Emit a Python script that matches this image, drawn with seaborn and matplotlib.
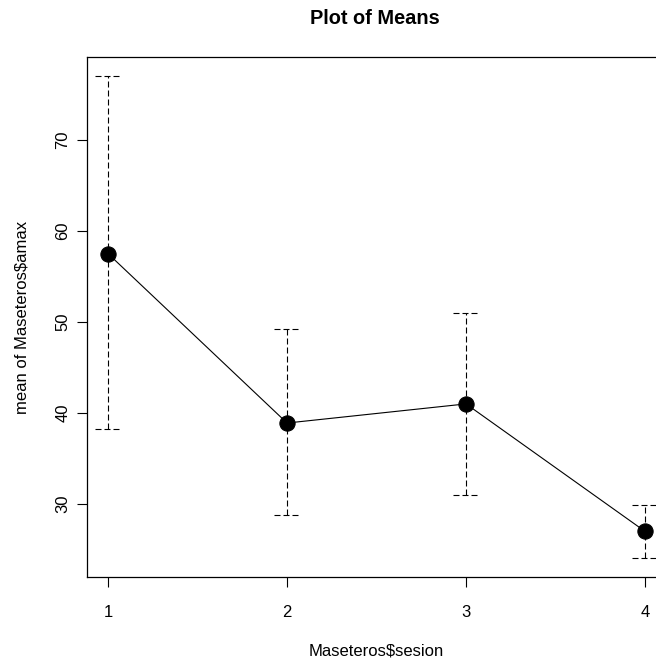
import numpy as np
import pandas as pd
import matplotlib
matplotlib.use("Agg")
import matplotlib.pyplot as plt
import seaborn as sns

# data
sesion = [1, 2, 3, 4]
means = [57.5, 38.9, 41.0, 27.0]
upper = [77.0, 49.2, 51.0, 29.9]
lower = [38.2, 28.8, 31.0, 24.1]
x_ticks = ["1", "2", "3", "4"]
y_ticks = [30, 40, 50, 60, 70]

sns.set_style("white")
plt.rcParams["font.family"] = ["Liberation Sans", "DejaVu Sans"]
plt.rcParams.update({"text.color": "black", "axes.labelcolor": "black",
                     "xtick.color": "black", "ytick.color": "black"})

df = pd.DataFrame({"sesion": sesion, "mean": means, "upper": upper, "lower": lower})

fig = plt.figure(figsize=(6.56, 6.61), dpi=100)
ax = fig.add_axes([0.132, 0.127, 0.884, 0.787])

# dashed confidence intervals (R plotMeans style)
dash = (0, (5.4, 2.7))
ax.vlines(df["sesion"], df["lower"], df["upper"], colors="black", linewidth=0.8, linestyles=dash)
ax.hlines(df["upper"], df["sesion"] - 0.073, df["sesion"] + 0.073, colors="black",
          linewidth=0.8, linestyles=dash)
ax.hlines(df["lower"], df["sesion"] - 0.073, df["sesion"] + 0.073, colors="black",
          linewidth=0.8, linestyles=dash)

sns.lineplot(data=df, x="sesion", y="mean", ax=ax, color="black", linewidth=0.8,
             marker="o", markersize=11, markeredgecolor="black", markerfacecolor="black")

# R default 4% axis extension
span_y = max(upper) - min(lower)
ax.set_ylim(min(lower) - 0.04 * span_y, max(upper) + 0.04 * span_y)
ax.set_xlim(1 - 0.04 * 3, 4 + 0.04 * 3)

ax.set_xticks(sesion)
ax.set_xticklabels(x_ticks)
ax.set_yticks(y_ticks)
ax.set_yticklabels([str(v) for v in y_ticks], rotation=90)
ax.tick_params(axis="both", direction="out", length=7, width=0.8, color="black",
               labelcolor="black", labelsize=12, bottom=True, left=True)
ax.tick_params(axis="x", pad=13)
ax.tick_params(axis="y", pad=4.5)
for lbl in ax.get_yticklabels():
    lbl.set_verticalalignment("center")

for side in ["left", "bottom", "top", "right"]:
    ax.spines[side].set_color("black")
    ax.spines[side].set_linewidth(0.9)

ax.set_xlabel("Maseteros$sesion", fontsize=12, labelpad=17, color="black")
ax.set_ylabel("mean of Maseteros$amax", fontsize=12, labelpad=19, color="black")
fig.text(0.5716, 0.972, "Plot of Means", ha="center", va="center",
         fontsize=14.4, fontweight="bold", color="black")

fig.savefig("out.png", dpi=100)
